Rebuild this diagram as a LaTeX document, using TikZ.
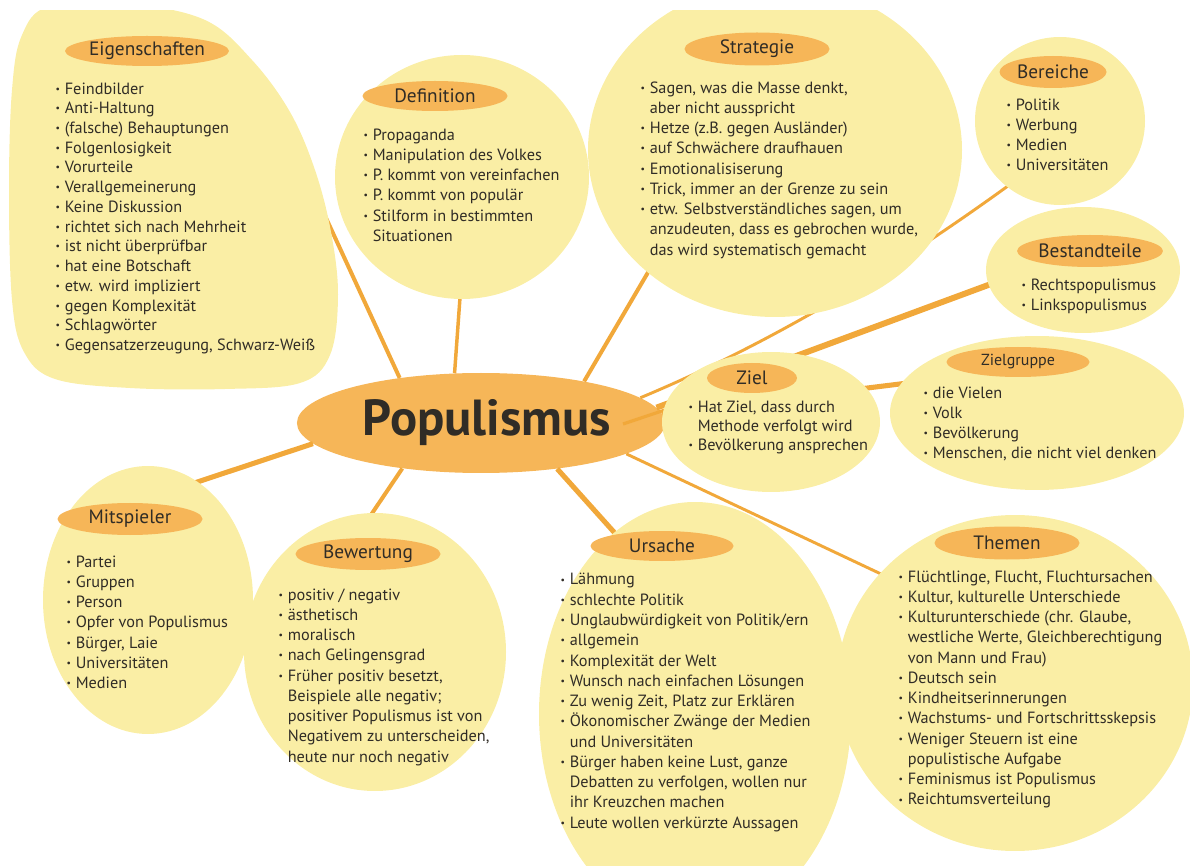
\documentclass[tikz,border=0pt]{standalone}
\usepackage{fontspec}
\setmainfont{PT Sans}
\usepackage{graphicx}
\usetikzlibrary{shapes.geometric}
\pgfdeclarelayer{back}
\pgfsetlayers{back,main}

\definecolor{bubY}{RGB}{250,238,165}
\definecolor{pillO}{RGB}{246,182,88}
\definecolor{lineO}{RGB}{241,168,58}
\definecolor{txt}{RGB}{48,44,38}

\newcommand{\itm}{\makebox[7pt][l]{\raisebox{0.12em}{\scalebox{0.6}{\textbullet}}}}
\newcommand{\cnt}{\hspace*{7pt}}

\tikzset{every picture/.style={line width=0.75pt},
  bubble/.style 2 args={ellipse, fill=bubY, inner sep=0pt, minimum width=#1*1.5pt, minimum height=#2*1.5pt},
  pill/.style 2 args={ellipse, fill=pillO, inner sep=0pt, minimum width=#1*0.75pt, minimum height=#2*0.75pt, text=txt, font=\fontsize{14.5}{17}\selectfont},
  itemlist/.style={anchor=north west, inner sep=0pt, align=left, text=txt, font=\fontsize{12.2}{15.2}\selectfont},
  spoke/.style={draw=lineO, line width=#1, shorten >=-6pt}}

\begin{document}
\begin{tikzpicture}[x=0.75pt,y=0.75pt,yscale=-1,xscale=1]
\useasboundingbox (0,0) rectangle (1190,866);

\begin{scope}
\clip (0,11) rectangle (1190,866);
%Shape: Blob
\fill[bubY] plot[smooth cycle, tension=0.6] coordinates {(12,300) (24,352) (55,379) (130,388) (225,389) (300,383) (330,355) (338,295) (331,232) (315,170) (290,112) (252,60) (205,20) (130,4) (50,6) (22,35) (12,90) (9,190)};
\coordinate (eigE) at (326,218);
%Shape: Ellipse
\node[bubble={127}{122}] (def) at (462,177) {};
\node[bubble={187}{167}] (strat) at (775,150) {};
\node[bubble={85}{84}] (ber) at (1060,121) {};
\node[bubble={97}{63}] (best) at (1083,270) {};
\node[bubble={147}{77}] (zgr) at (1037,413) {};
\node[bubble={109}{70}] (ziel) at (771,422) {};
\node[bubble={105}{134}] (mit) at (148,600) {};
\node[bubble={131}{139}] (bew) at (375,652) {};
\node[bubble={156}{212}] (urs) at (695,714) {};
\node[bubble={178}{168}] (them) at (1015,683) {};
\end{scope}

%Shape: Ellipse
\node[pill={150}{30}] (eigT) at (147,51) {Eigenschaften};
\node[pill={145}{30}] (defT) at (435,96) {Definition};
\node[pill={145}{33}] (stratT) at (757,49) {Strategie};
\node[pill={107}{32}] (berT) at (1053,72) {Bereiche};
\node[pill={124}{32}] (bestT) at (1090,251) {Bestandteile};
\node[pill={143}{30}, font=\fontsize{12}{14}\selectfont] (zgrT) at (1018,362) {Zielgruppe};
\node[pill={90}{30}] (zielT) at (752,378) {Ziel};
\node[pill={145}{32}] (mitT) at (130,519) {Mitspieler};
\node[pill={145}{32}] (bewT) at (368,554) {Bewertung};
\node[pill={143}{30}] (ursT) at (662,546) {Ursache};
\node[pill={145}{33}] (themT) at (1007,543) {Themen};

% Text Node
\node[itemlist, font=\fontsize{12.2}{14.8}\selectfont] (eigL) at (55,82) {\itm Feindbilder\\ \itm Anti-Haltung\\ \itm (falsche) Behauptungen\\ \itm Folgenlosigkeit\\ \itm Vorurteile\\ \itm Verallgemeinerung\\ \itm Keine Diskussion\\ \itm richtet sich nach Mehrheit\\ \itm ist nicht überprüfbar\\ \itm hat eine Botschaft\\ \itm etw. wird impliziert\\ \itm gegen Komplexität\\ \itm Schlagwörter\\ \itm Gegensatzerzeugung, Schwarz-Weiß};
% Text Node
\node[itemlist] (defL) at (363,128) {\itm Propaganda\\ \itm Manipulation des Volkes\\ \itm P. kommt von vereinfachen\\ \itm P. kommt von populär\\ \itm Stilform in bestimmten\\ \cnt Situationen};
% Text Node
\node[itemlist] (stratL) at (640,81) {\itm Sagen, was die Masse denkt,\\ \cnt aber nicht ausspricht\\ \itm Hetze (z.B. gegen Ausländer)\\ \itm auf Schwächere draufhauen\\ \itm Emotionalisiserung\\ \itm Trick, immer an der Grenze zu sein\\ \itm etw. Selbstverständliches sagen, um\\ \cnt anzudeuten, dass es gebrochen wurde,\\ \cnt das wird systematisch gemacht};
% Text Node
\node[itemlist] (berL) at (1006,98) {\itm Politik\\ \itm Werbung\\ \itm Medien\\ \itm Universitäten};
% Text Node
\node[itemlist] (bestL) at (1021,278) {\itm Rechtspopulismus\\ \itm Linkspopulismus};
% Text Node
\node[itemlist] (zgrL) at (923,386) {\itm die Vielen\\ \itm Volk\\ \itm Bevölkerung\\ \itm Menschen, die nicht viel denken};
% Text Node
\node[itemlist, font=\fontsize{12.2}{14.3}\selectfont] (zielL) at (688,400) {\itm Hat Ziel, dass durch\\ \cnt Methode verfolgt wird\\ \itm Bevölkerung ansprechen};
% Text Node
\node[itemlist] (mitL) at (66,555) {\itm Partei\\ \itm Gruppen\\ \itm Person\\ \itm Opfer von Populismus\\ \itm Bürger, Laie\\ \itm Universitäten\\ \itm Medien};
% Text Node
\node[itemlist] (bewL) at (278,588) {\itm positiv / negativ\\ \itm ästhetisch\\ \itm moralisch\\ \itm nach Gelingensgrad\\ \itm Früher positiv besetzt,\\ \cnt Beispiele alle negativ;\\ \cnt positiver Populismus ist von\\ \cnt Negativem zu unterscheiden,\\ \cnt heute nur noch negativ};
% Text Node
\node[itemlist] (ursL) at (560,573) {\itm Lähmung\\ \itm schlechte Politik\\ \itm Unglaubwürdigkeit von Politik/ern\\ \itm allgemein\\ \itm Komplexität der Welt\\ \itm Wunsch nach einfachen Lösungen\\ \itm Zu wenig Zeit, Platz zur Erklären\\ \itm Ökonomischer Zwänge der Medien\\ \cnt und Universitäten\\ \itm Bürger haben keine Lust, ganze\\ \cnt Debatten zu verfolgen, wollen nur\\ \cnt ihr Kreuzchen machen\\ \itm Leute wollen verkürzte Aussagen};
% Text Node
\node[itemlist] (themL) at (898,570) {\itm Flüchtlinge, Flucht, Fluchtursachen\\ \itm Kultur, kulturelle Unterschiede\\ \itm Kulturunterschiede (chr. Glaube,\\ \cnt westliche Werte, Gleichberechtigung\\ \cnt von Mann und Frau)\\ \itm Deutsch sein\\ \itm Kindheitserinnerungen\\ \itm Wachstums- und Fortschrittsskepsis\\ \itm Weniger Steuern ist eine\\ \cnt populistische Aufgabe\\ \itm Feminismus ist Populismus\\ \itm Reichtumsverteilung};

\begin{pgfonlayer}{back}
%Shape: Ellipse
\node[ellipse, fill=pillO, inner sep=0pt, minimum width=267pt, minimum height=75pt, text=txt, font=\bfseries\fontsize{38}{44}\selectfont] (pop) at (481,423) {\hspace*{9pt}Populismus};
\coordinate (popZ) at (623,424);
%Straight Lines
\draw[spoke=3pt] (pop.151) -- (eigE);
\draw[spoke=2.6pt] (pop.118) -- (def.-91);
\draw[spoke=3pt] (pop.22) -- (strat.-136);
\draw[spoke=2.2pt] (pop.9) .. controls (755,350) and (876,282) .. (ber.-129);
\draw[spoke=4.5pt] (pop.5) -- (best.-171);
\draw[spoke=3.8pt] (pop.3) -- (zgr.168);
\draw[spoke=2.4pt] (popZ) -- (ziel.174);
\draw[spoke=3.8pt] (pop.-173) -- (mit.67);
\draw[spoke=3pt] (pop.-150) -- (bew.91);
\draw[spoke=3.8pt] (pop.-31) -- (urs.114);
\draw[spoke=2.2pt] (pop.-12) -- (them.141);
\end{pgfonlayer}

\end{tikzpicture}
\end{document}
